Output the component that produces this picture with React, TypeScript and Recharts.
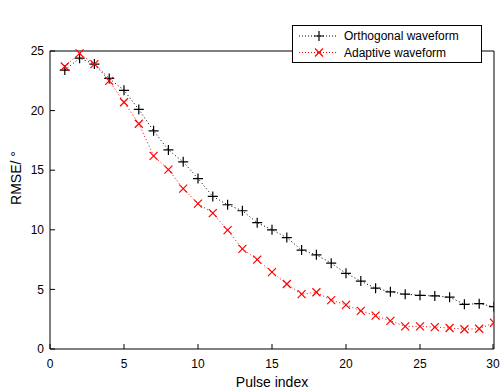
import React from 'react';
import { LineChart, Line, XAxis, YAxis, Legend, ReferenceArea } from 'recharts';

const pulseIndex = [1, 2, 3, 4, 5, 6, 7, 8, 9, 10, 11, 12, 13, 14, 15, 16, 17, 18, 19, 20, 21, 22, 23, 24, 25, 26, 27, 28, 29, 30];
const orthogonal = [23.4, 24.4, 23.9, 22.7, 21.7, 20.1, 18.3, 16.7, 15.7, 14.3, 12.8, 12.1, 11.6, 10.6, 10.0, 9.35, 8.3, 7.9, 7.2, 6.35, 5.7, 5.1, 4.8, 4.6, 4.5, 4.45, 4.35, 3.75, 3.8, 3.55];
const adaptive = [23.7, 24.8, 23.9, 22.5, 20.7, 18.9, 16.2, 15.05, 13.45, 12.2, 11.4, 9.97, 8.4, 7.5, 6.45, 5.45, 4.6, 4.76, 4.1, 3.7, 3.2, 2.8, 2.36, 1.9, 1.9, 1.84, 1.76, 1.66, 1.7, 2.2];
const xTicks = [0, 5, 10, 15, 20, 25, 30];
const yTicks = [0, 5, 10, 15, 20, 25];
const seriesNames = ['Orthogonal waveform', 'Adaptive waveform'];

const data = pulseIndex.map((p, i) => ({ x: p, orth: orthogonal[i], adap: adaptive[i] }));

const FONT = '"Liberation Sans", Arial, Helvetica, sans-serif';
const TICK_LEN = 5;
const X_MARGIN = 10;
const Y_MARGIN = 6;

const PlusDot = (props: any) => {
  const { cx, cy } = props;
  if (cx == null || cy == null) return <g key={props.key} />;
  const r = 5;
  return (
    <path key={props.key} d={`M${cx - r},${cy}H${cx + r}M${cx},${cy - r}V${cy + r}`} stroke="#000" strokeWidth={1.2} fill="none" />
  );
};

const CrossDot = (props: any) => {
  const { cx, cy } = props;
  if (cx == null || cy == null) return <g key={props.key} />;
  const r = 4;
  return (
    <path key={props.key} d={`M${cx - r},${cy - r}L${cx + r},${cy + r}M${cx - r},${cy + r}L${cx + r},${cy - r}`} stroke="#ff0000" strokeWidth={1.2} fill="none" />
  );
};

const BottomTick = (props: any) => {
  const { x, y, payload } = props;
  const axisY = y - X_MARGIN;
  return (
    <g>
      <line x1={x} y1={axisY} x2={x} y2={axisY - TICK_LEN} stroke="#000" strokeWidth={1} />
      <text x={x} y={y} dy="0.71em" textAnchor="middle" fontSize={12} fontFamily={FONT} fill="#000">{payload.value}</text>
    </g>
  );
};

const TopTick = (props: any) => {
  const { x, y } = props;
  return <line x1={x} y1={y} x2={x} y2={y + TICK_LEN} stroke="#000" strokeWidth={1} />;
};

const LeftTick = (props: any) => {
  const { x, y, payload } = props;
  const axisX = x + Y_MARGIN;
  return (
    <g>
      <line x1={axisX} y1={y} x2={axisX + TICK_LEN} y2={y} stroke="#000" strokeWidth={1} />
      <text x={x} y={y} dy="0.355em" textAnchor="end" fontSize={12} fontFamily={FONT} fill="#000">{payload.value}</text>
    </g>
  );
};

const RightTick = (props: any) => {
  const { x, y } = props;
  return <line x1={x} y1={y} x2={x - TICK_LEN} y2={y} stroke="#000" strokeWidth={1} />;
};

const LegendBox = () => (
  <svg width={190} height={38} style={{ display: 'block' }}>
    <rect x={0.5} y={0.5} width={189} height={37} fill="#fff" stroke="#000" strokeWidth={1} />
    <line x1={7} y1={11} x2={46} y2={11} stroke="#000" strokeDasharray="1 2" />
    <PlusDot cx={27} cy={11} />
    <text x={52} y={15} fontSize={12} fontFamily={FONT} fill="#000">{seriesNames[0]}</text>
    <line x1={7} y1={27.5} x2={46} y2={27.5} stroke="#ff0000" strokeDasharray="1 2" />
    <CrossDot cx={27} cy={27.5} />
    <text x={52} y={31.5} fontSize={12} fontFamily={FONT} fill="#000">{seriesNames[1]}</text>
  </svg>
);

export default function App() {
  return (
    <div style={{ position: 'absolute', left: 0, top: 0, width: 501, height: 389, background: '#fff' }}>
      <LineChart width={501} height={389} data={data} margin={{ top: 13, right: 7, bottom: 0, left: 0 }} style={{ fontFamily: FONT }}>
        <XAxis
          dataKey="x"
          type="number"
          domain={[0, 30]}
          ticks={xTicks}
          height={40}
          axisLine={false}
          tickLine={false}
          tickSize={0}
          tickMargin={X_MARGIN}
          tick={<BottomTick />}
          allowDataOverflow
          label={{ value: 'Pulse index', position: 'insideBottom', offset: 2, fill: '#000', fontSize: 14, fontFamily: FONT }}
        />
        <XAxis
          xAxisId="top"
          orientation="top"
          dataKey="x"
          type="number"
          domain={[0, 30]}
          ticks={xTicks}
          height={0}
          axisLine={false}
          tickLine={false}
          tickSize={0}
          tickMargin={0}
          tick={<TopTick />}
        />
        <YAxis
          type="number"
          domain={[0, 25]}
          ticks={yTicks}
          width={50}
          axisLine={false}
          tickLine={false}
          tickSize={0}
          tickMargin={Y_MARGIN}
          tick={<LeftTick />}
          label={{
            content: () => (
              <text x={16} y={178} transform="rotate(-90 16 178)" textAnchor="middle" dominantBaseline="central" fontSize={14} fontFamily={FONT} fill="#000">
                RMSE/ °
              </text>
            ),
          }}
        />
        <YAxis
          yAxisId="right"
          orientation="right"
          type="number"
          domain={[0, 25]}
          ticks={yTicks}
          width={0}
          axisLine={false}
          tickLine={false}
          tickSize={0}
          tickMargin={0}
          tick={<RightTick />}
        />
        <ReferenceArea x1={0} x2={30} y1={0} y2={25} fill="none" stroke="#000" strokeWidth={1} fillOpacity={0} ifOverflow="visible" />
        <Legend
          verticalAlign="top"
          align="right"
          content={() => <LegendBox />}
          wrapperStyle={{ position: 'absolute', left: 292, top: 25, width: 190, height: 38 }}
        />
        <Line
          dataKey="orth"
          name={seriesNames[0]}
          stroke="#000"
          strokeWidth={1}
          strokeDasharray="1 2.5"
          dot={(p: any) => <PlusDot {...p} key={p.key} />}
          activeDot={false}
          isAnimationActive={false}
        />
        <Line
          dataKey="adap"
          name={seriesNames[1]}
          stroke="#ff0000"
          strokeWidth={1}
          strokeDasharray="1 2.5"
          dot={(p: any) => <CrossDot {...p} key={p.key} />}
          activeDot={false}
          isAnimationActive={false}
        />
      </LineChart>
    </div>
  );
}
